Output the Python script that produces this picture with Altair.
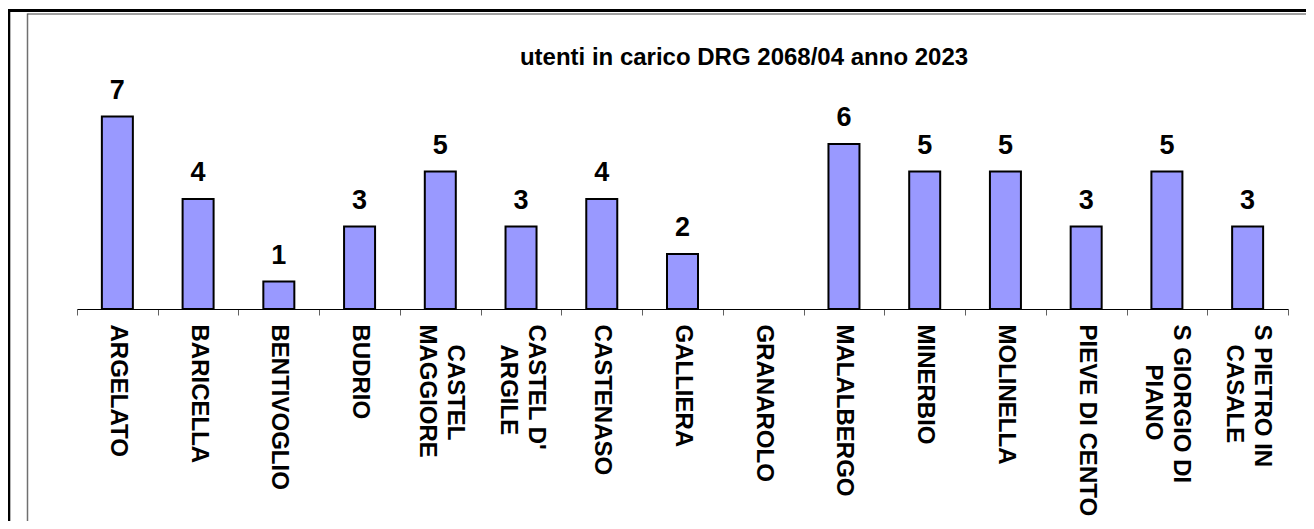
import altair as alt
import pandas as pd

# data
categories = ["ARGELATO", "BARICELLA", "BENTIVOGLIO", "BUDRIO", "CASTEL|MAGGIORE",
              "CASTEL D'|ARGILE", "CASTENASO", "GALLIERA", "GRANAROLO", "MALALBERGO",
              "MINERBIO", "MOLINELLA", "PIEVE DI CENTO", "S GIORGIO DI|PIANO",
              "S PIETRO IN|CASALE"]
values = [7, 4, 1, 3, 5, 3, 4, 2, 0, 6, 5, 5, 3, 5, 3]
title_text = "utenti in carico DRG 2068/04 anno 2023"

# approximate Arial Bold advance widths (per 1000 em) used to centre the
# shorter line of the two-line labels with non-breaking spaces
_W = {"A": 722, "B": 722, "C": 722, "D": 722, "E": 667, "F": 611, "G": 778, "H": 722,
      "I": 278, "J": 556, "K": 722, "L": 611, "M": 833, "N": 722, "O": 778, "P": 667,
      "Q": 778, "R": 722, "S": 667, "T": 611, "U": 722, "V": 667, "W": 944, "X": 667,
      "Y": 667, "Z": 611, " ": 278, "'": 238}


def _width(s):
    return sum(_W.get(c, 600) for c in s)


def display_label(name):
    if "|" not in name:
        return name
    a, b = name.split("|")
    n = round((_width(a) - _width(b)) / 2 / 278)
    pad = lambda k: "\u200b" + "\u00a0" * k
    if n > 0:
        b = pad(n) + b
    elif n < 0:
        a = pad(-n) + a
    return a + "|" + b


labels_disp = [display_label(c) for c in categories]
df = pd.DataFrame({"comune": labels_disp, "utenti": values})

FONT = "Liberation Sans"
W, H = 1211, 275

x = alt.X("comune:N", sort=labels_disp,
          scale=alt.Scale(domain=labels_disp, paddingInner=0, paddingOuter=0),
          axis=alt.Axis(title=None, labelAngle=90, labelAlign="left", labelBaseline="middle",
                        labelPadding=9, labelFontSize=24, labelFont=FONT, labelFontWeight="bold",
                        labelColor="black", labelLimit=400, labelLineHeight=28,
                        labelExpr="split(datum.label, '|')",
                        labelOffset={"condition": {"test": "indexof(datum.label, '|') >= 0",
                                                   "value": 14}, "value": 0},
                        tickBand="extent", tickSize=6, tickColor="#606060", tickWidth=1,
                        domainColor="black", domainWidth=1, grid=False, labelOverlap=False))
y = alt.Y("utenti:Q", scale=alt.Scale(domain=[0, 10], nice=False), axis=None)

base = alt.Chart(df)

bars = base.transform_filter("datum.utenti > 0").mark_bar(
    size=31, color="#9999FF", stroke="black", strokeWidth=2
).encode(x=x, y=y)

labels = base.transform_filter("datum.utenti > 0").mark_text(
    font=FONT, fontSize=27, fontWeight="bold", color="black", baseline="alphabetic", dy=-18
).encode(x=x, y=y, text="utenti:Q")

title = alt.Chart(alt.Data(values=[{"t": title_text}])).mark_text(
    font=FONT, fontSize=24, fontWeight="bold", color="black",
    align="center", baseline="alphabetic"
).encode(x=alt.value(667), y=alt.value(30.5), text="t:N")

# chart frame: thick black outer border and thin grey inner border
frame = pd.DataFrame({"f": ["frame"]})
outer_v = alt.Chart(frame).mark_rule(color="black", strokeWidth=3).encode(
    x=alt.value(-68.2), y=alt.value(-25), y2=alt.value(520))
outer_h = alt.Chart(frame).mark_rule(color="black", strokeWidth=3).encode(
    y=alt.value(-23.5), x=alt.value(-70), x2=alt.value(1260))
inner_v = alt.Chart(frame).mark_rule(color="#707070", strokeWidth=1.5).encode(
    x=alt.value(-49.5), y=alt.value(-20.5), y2=alt.value(520))
inner_h = alt.Chart(frame).mark_rule(color="#404040", strokeWidth=1).encode(
    y=alt.value(-20), x=alt.value(-49.5), x2=alt.value(1260))

chart = alt.layer(outer_v, outer_h, inner_v, inner_h, bars, labels, title).properties(
    width=W, height=H,
    autosize=alt.AutoSizeParams(type="none"),
    padding={"left": 69, "top": 26, "right": 18, "bottom": 212},
    background="white",
).configure_view(stroke="transparent", strokeWidth=0)

chart.save("out.html", embed_options={"renderer": "svg", "actions": False})
